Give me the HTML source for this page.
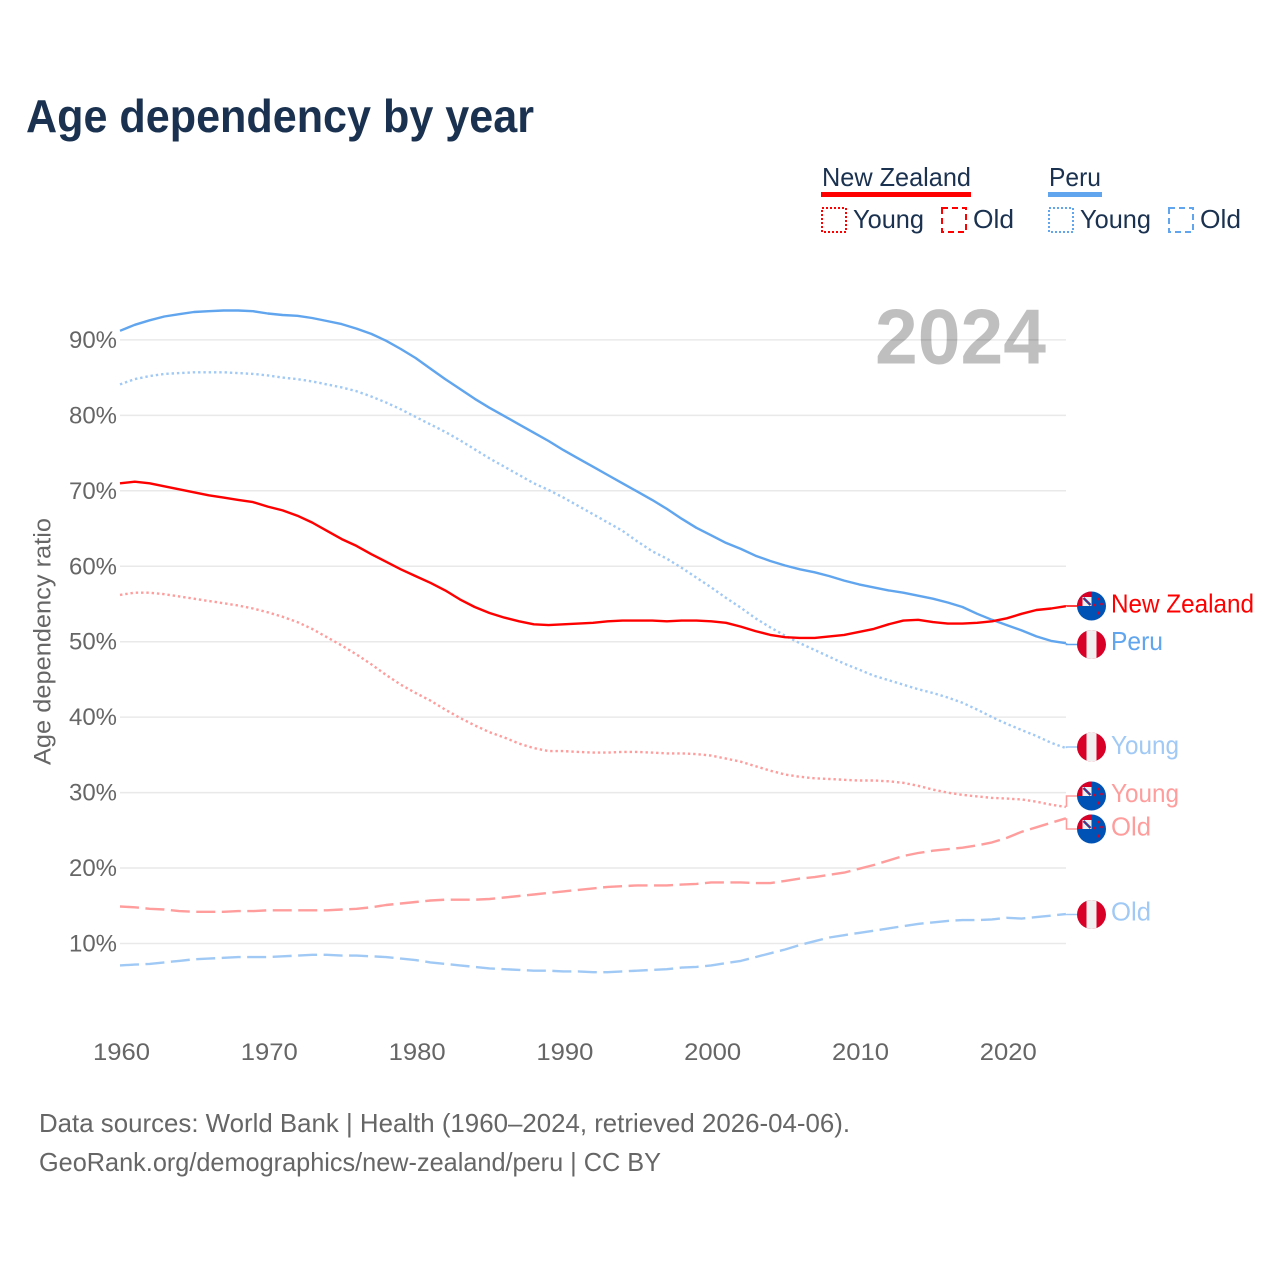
<!DOCTYPE html>
<html lang="en">
<head>
<meta charset="utf-8">
<title>Age dependency by year</title>
<style>
html,body{margin:0;padding:0;background:#fff;}
svg{display:block;}
text{font-family:"Liberation Sans",sans-serif;}
</style>
</head>
<body>
<svg id="chart" xmlns="http://www.w3.org/2000/svg" width="1280" height="1280" viewBox="0 0 1280 1280">
<defs>
<clipPath id="flag-clip"><circle cx="0" cy="0" r="14.5"/></clipPath>
<g id="flag-nz" clip-path="url(#flag-clip)">
<rect x="-15" y="-15" width="30" height="30" fill="#0052B4"/>
<rect x="-15" y="-15" width="15" height="15" fill="#D80027"/>
<rect x="-9" y="-9" width="9" height="9" fill="#F0F0F0"/>
<path d="M-8-8L-1-1" stroke="#0052B4" stroke-width="2.4"/>
<path d="M-8-8L-1-1" stroke="#D80027" stroke-width="0.7"/>
<circle cx="7" cy="-7" r="1.3" fill="#D80027"/><circle cx="3" cy="-1" r="1.3" fill="#D80027"/><circle cx="10" cy="-2" r="1.3" fill="#D80027"/><circle cx="7" cy="7" r="1.5" fill="#D80027"/>
</g>
<g id="flag-pe" clip-path="url(#flag-clip)">
<rect x="-15" y="-15" width="30" height="30" fill="#D80027"/>
<rect x="-5" y="-15" width="10" height="30" fill="#F0F0F0"/>
</g>
</defs>
<text x="26" y="132" font-size="46" font-weight="700" fill="#1a3250" textLength="508" lengthAdjust="spacingAndGlyphs">Age dependency by year</text>

<g>
<text x="822" y="186" font-size="26" fill="#1a3250" textLength="149" lengthAdjust="spacingAndGlyphs">New Zealand</text>
<rect x="821" y="192" width="150" height="5" fill="#ff0000"/>
<text x="1049" y="186" font-size="26" fill="#1a3250" textLength="52" lengthAdjust="spacingAndGlyphs">Peru</text>
<rect x="1048" y="192" width="54" height="5" fill="#60a5ee"/>
<rect x="822" y="208" width="24" height="24" fill="none" stroke="#ff0000" stroke-width="2" stroke-dasharray="2 2"/>
<text x="853" y="228" font-size="26" fill="#1a3250" textLength="71" lengthAdjust="spacingAndGlyphs">Young</text>
<rect x="942" y="208" width="24" height="24" fill="none" stroke="#ff0000" stroke-width="2" stroke-dasharray="6 4"/>
<text x="973" y="228" font-size="26" fill="#1a3250" textLength="41" lengthAdjust="spacingAndGlyphs">Old</text>
<rect x="1049" y="208" width="24" height="24" fill="none" stroke="#60a5ee" stroke-width="2" stroke-dasharray="2 2"/>
<text x="1080" y="228" font-size="26" fill="#1a3250" textLength="71" lengthAdjust="spacingAndGlyphs">Young</text>
<rect x="1169" y="208" width="24" height="24" fill="none" stroke="#60a5ee" stroke-width="2" stroke-dasharray="6 4"/>
<text x="1200" y="228" font-size="26" fill="#1a3250" textLength="41" lengthAdjust="spacingAndGlyphs">Old</text>
</g>

<g id="grid"></g>
<text x="875" y="363.5" font-size="78" font-weight="700" fill="#000000" fill-opacity="0.25" textLength="171" lengthAdjust="spacingAndGlyphs">2024</text>
<g id="y-ticks"></g>
<g id="x-ticks"></g>
<text transform="translate(50.5,765) rotate(-90)" font-size="24" fill="#666666" textLength="247" lengthAdjust="spacingAndGlyphs">Age dependency ratio</text>
<g id="series"></g>
<g id="end-labels"></g>

<g>
<text x="39" y="1132" font-size="26" fill="#666666" textLength="811" lengthAdjust="spacingAndGlyphs">Data sources: World Bank | Health (1960–2024, retrieved 2026-04-06).</text>
<text x="39" y="1171" font-size="26" fill="#666666" textLength="622" lengthAdjust="spacingAndGlyphs">GeoRank.org/demographics/new-zealand/peru | CC BY</text>
</g>
</svg>
<script>
var firstYear = 1960;
var xTickYears = [1960, 1970, 1980, 1990, 2000, 2010, 2020];
var yTickValues = [10, 20, 30, 40, 50, 60, 70, 80, 90];
var nzTotal = [71.0,71.2,71.0,70.6,70.2,69.8,69.4,69.1,68.8,68.5,67.9,67.4,66.7,65.8,64.7,63.6,62.7,61.6,60.6,59.6,58.7,57.8,56.8,55.6,54.6,53.8,53.2,52.7,52.3,52.2,52.3,52.4,52.5,52.7,52.8,52.8,52.8,52.7,52.8,52.8,52.7,52.5,52.0,51.4,50.9,50.6,50.5,50.5,50.7,50.9,51.3,51.7,52.3,52.8,52.9,52.6,52.4,52.4,52.5,52.7,53.1,53.7,54.2,54.4,54.7];
var peruTotal = [91.2,92.0,92.6,93.1,93.4,93.7,93.8,93.9,93.9,93.8,93.5,93.3,93.2,92.9,92.5,92.1,91.5,90.8,89.9,88.8,87.6,86.2,84.8,83.5,82.2,81.0,79.9,78.8,77.7,76.6,75.4,74.3,73.2,72.1,71.0,69.9,68.8,67.6,66.3,65.1,64.1,63.1,62.3,61.4,60.7,60.1,59.6,59.2,58.7,58.1,57.6,57.2,56.8,56.5,56.1,55.7,55.2,54.6,53.7,52.9,52.2,51.5,50.7,50.1,49.8];
var nzYoung = [56.2,56.5,56.5,56.3,56.0,55.7,55.4,55.1,54.8,54.4,53.9,53.3,52.6,51.7,50.6,49.5,48.3,47.0,45.6,44.3,43.2,42.2,41.0,39.9,38.9,38.0,37.3,36.5,35.9,35.5,35.5,35.4,35.3,35.3,35.4,35.4,35.3,35.2,35.2,35.1,34.9,34.5,34.1,33.5,32.9,32.4,32.1,31.9,31.8,31.7,31.6,31.6,31.5,31.3,30.9,30.4,30.0,29.7,29.5,29.3,29.2,29.1,28.8,28.4,28.1];
var peruYoung = [84.1,84.8,85.2,85.5,85.6,85.7,85.7,85.7,85.6,85.5,85.3,85.0,84.8,84.5,84.1,83.7,83.2,82.5,81.7,80.8,79.8,78.8,77.8,76.7,75.5,74.3,73.2,72.1,71.0,70.1,69.1,68.0,66.9,65.8,64.7,63.3,62.0,61.0,59.8,58.5,57.2,55.8,54.5,53.1,51.9,50.8,49.8,48.9,48.0,47.1,46.3,45.5,44.9,44.3,43.7,43.2,42.6,41.9,41.0,40.0,39.1,38.3,37.5,36.6,35.9];
var nzOld = [14.9,14.8,14.6,14.5,14.3,14.2,14.2,14.2,14.3,14.3,14.4,14.4,14.4,14.4,14.4,14.5,14.6,14.8,15.1,15.3,15.5,15.7,15.8,15.8,15.8,15.9,16.1,16.3,16.5,16.7,16.9,17.1,17.3,17.5,17.6,17.7,17.7,17.7,17.8,17.9,18.1,18.1,18.1,18.0,18.0,18.3,18.6,18.8,19.1,19.4,19.9,20.4,21.0,21.6,22.0,22.3,22.5,22.7,23.0,23.4,24.0,24.8,25.4,26.0,26.6];
var peruOld = [7.1,7.2,7.3,7.5,7.7,7.9,8.0,8.1,8.2,8.2,8.2,8.3,8.4,8.5,8.5,8.4,8.4,8.3,8.2,8.0,7.8,7.5,7.3,7.1,6.9,6.7,6.6,6.5,6.4,6.4,6.3,6.3,6.2,6.2,6.3,6.4,6.5,6.6,6.8,6.9,7.1,7.4,7.7,8.2,8.7,9.2,9.8,10.3,10.8,11.1,11.4,11.7,12.0,12.3,12.6,12.8,13.0,13.1,13.1,13.2,13.4,13.3,13.5,13.7,13.9];

var NS = 'http://www.w3.org/2000/svg';
function xScale(year) { return 120 + (year - 1960) * 14.78; }
function yScale(v) { return 943.5 - (v - 10) * 7.545; }
function mk(tag, attrs, parent) {
  var el = document.createElementNS(NS, tag);
  for (var k in attrs) el.setAttribute(k, attrs[k]);
  parent.appendChild(el);
  return el;
}

var gridG = document.getElementById('grid');
var yG = document.getElementById('y-ticks');
yTickValues.forEach(function (v) {
  var line = mk('line', {x1: 120, x2: 1066, y1: yScale(v), y2: yScale(v), stroke: '#e9e9e9', 'stroke-width': 1.5}, gridG);
  
  
  var t = mk('text', {x: 69, y: yScale(v) + 8, 'font-size': 24, fill: '#666666', textLength: 48, lengthAdjust: 'spacingAndGlyphs'}, yG);
  
  
  t.textContent = v + '%';
});

var xG = document.getElementById('x-ticks');
xTickYears.forEach(function (yr) {
  var t = mk('text', {x: xScale(yr) - 27, y: 1060, 'font-size': 24, fill: '#666666', textLength: 57, lengthAdjust: 'spacingAndGlyphs'}, xG);
  
  
  t.textContent = yr;
});

var seriesG = document.getElementById('series');
function drawLine(values, color, dash, name) {
  var pts = values.map(function (v, i) { return xScale(firstYear + i).toFixed(1) + ',' + yScale(v).toFixed(1); });
  var attrs = {points: pts.join(' '), fill: 'none', stroke: color, 'stroke-width': 2.4, 'stroke-linejoin': 'round'};
  if (dash) attrs['stroke-dasharray'] = dash;
  var line = mk('polyline', attrs, seriesG);
  
  
}
drawLine(peruOld, '#a0c9f5', '19 6.5', 'line-peru-old');
drawLine(nzOld, '#ff9d9d', '19 6.5', 'line-nz-old');
drawLine(peruYoung, '#a0c9f5', '2.4 2.9', 'line-peru-young');
drawLine(nzYoung, '#ff9d9d', '2.4 2.9', 'line-nz-young');
drawLine(peruTotal, '#60a5ee', '', 'line-peru-total');
drawLine(nzTotal, '#ff0000', '', 'line-nz-total');

var labelsG = document.getElementById('end-labels');
function endLabel(values, flagY, flag, color, text, width, baseline, name) {
  var lastY = yScale(values[values.length - 1]);
  var p = mk('polyline', {points: '1066.5,' + lastY.toFixed(1) + ' 1066.5,' + flagY + ' 1077,' + flagY, fill: 'none', stroke: color, 'stroke-width': 1.6}, labelsG);
  
  
  var u = mk('use', {href: '#' + flag, x: 1091.5, y: flagY}, labelsG);
  
  
  var t = mk('text', {x: 1111, y: baseline, 'font-size': 26, fill: color, textLength: width, lengthAdjust: 'spacingAndGlyphs'}, labelsG);
  
  
  t.textContent = text;
}
endLabel(nzTotal, 606, 'flag-nz', '#ff0000', 'New Zealand', 143, 612.5, 'end-nz-total');
endLabel(peruTotal, 644.5, 'flag-pe', '#60a5ee', 'Peru', 52, 650, 'end-peru-total');
endLabel(peruYoung, 747, 'flag-pe', '#a0c9f5', 'Young', 68, 754, 'end-peru-young');
endLabel(nzYoung, 796, 'flag-nz', '#ff9d9d', 'Young', 68, 802, 'end-nz-young');
endLabel(nzOld, 829, 'flag-nz', '#ff9d9d', 'Old', 40, 835.5, 'end-nz-old');
endLabel(peruOld, 914.5, 'flag-pe', '#a0c9f5', 'Old', 40, 920.5, 'end-peru-old');
</script>
</body>
</html>
